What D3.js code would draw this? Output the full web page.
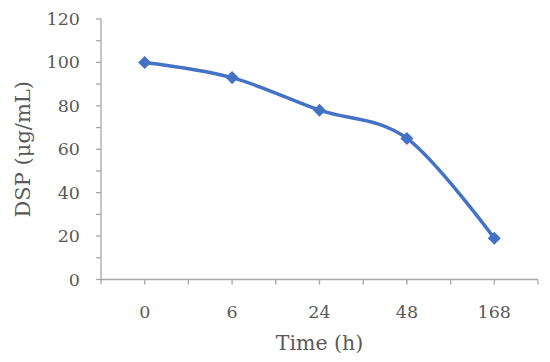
<!DOCTYPE html>
<html lang="en">
<head>
<meta charset="UTF-8">
<title>DSP over time</title>
<script src="https://d3js.org/d3.v7.min.js"></script>
<style>
    body {margin:0; background:#fff;}
    text {font-family: "Palatino Linotype", "Book Antiqua", "DejaVu Serif", serif; fill:#595959;}
</style>
</head>
<body>
<svg id="chart" width="550" height="362"></svg>
<script>
// data
var times = ["0", "6", "24", "48", "168"];
var dsp = [100, 93, 78, 65, 19];
var yTicks = [0, 20, 40, 60, 80, 100, 120];

var svg = d3.select("#chart");
var mLeft = 101, mRight = 538, mTop = 19, mBottom = 279.5;
var axisColor = "#a6a6a6", lineColor = "#4472c4";

var x = d3.scaleBand().domain(times).range([mLeft, mRight]);
var y = d3.scaleLinear().domain([0, 120]).range([mBottom, mTop]);

// y axis line + ticks every 10
svg.append("line").attr("x1", mLeft).attr("x2", mLeft).attr("y1", y(120)).attr("y2", y(0))
    .attr("stroke", axisColor).attr("stroke-width", 1.3);
svg.selectAll(".yt").data(d3.range(0, 121, 10)).enter().append("line")
    .attr("x1", mLeft - 5).attr("x2", mLeft).attr("y1", function(d){return y(d);}).attr("y2", function(d){return y(d);})
    .attr("stroke", axisColor).attr("stroke-width", 1.3);
svg.selectAll(".yl").data(yTicks).enter().append("text")
    .attr("x", 80).attr("y", function(d){return y(d) + 6;})
    .attr("text-anchor", "end").attr("font-size", 17.5).text(function(d){return d;});

// x axis line + ticks at band edges and centres
svg.append("line").attr("x1", mLeft).attr("x2", mRight).attr("y1", mBottom).attr("y2", mBottom)
    .attr("stroke", axisColor).attr("stroke-width", 1.3);
var xt = [mLeft];
times.forEach(function(t){ xt.push(x(t) + x.bandwidth()/2); xt.push(x(t) + x.bandwidth()); });
svg.selectAll(".xt").data(xt).enter().append("line")
    .attr("x1", function(d){return d;}).attr("x2", function(d){return d;})
    .attr("y1", mBottom).attr("y2", mBottom + 5)
    .attr("stroke", axisColor).attr("stroke-width", 1.3);
svg.selectAll(".xl").data(times).enter().append("text")
    .attr("x", function(d){return x(d) + x.bandwidth()/2;}).attr("y", 318)
    .attr("text-anchor", "middle").attr("font-size", 17.5).text(function(d){return d;});

// axis titles
svg.append("text").attr("x", (mLeft + mRight)/2).attr("y", 350).attr("text-anchor", "middle")
    .attr("font-size", 20.5).text("Time (h)");
svg.append("text").attr("transform", "translate(30," + ((mTop + mBottom)/2) + ") rotate(-90)")
    .attr("text-anchor", "middle").attr("font-size", 21).text("DSP (μg/mL)");

// smoothed line
var pts = times.map(function(t, i){ return [x(t) + x.bandwidth()/2, y(dsp[i])]; });
svg.append("path").attr("d", d3.line().curve(d3.curveCardinal.tension(0))(pts))
    .attr("fill", "none").attr("stroke", lineColor).attr("stroke-width", 3.5);

// diamond markers
svg.selectAll(".mk").data(pts).enter().append("path")
    .attr("d", d3.symbol().type(d3.symbolSquare).size(85))
    .attr("transform", function(d){return "translate(" + d[0] + "," + d[1] + ") rotate(45)";})
    .attr("fill", lineColor);
</script>
</body>
</html>
